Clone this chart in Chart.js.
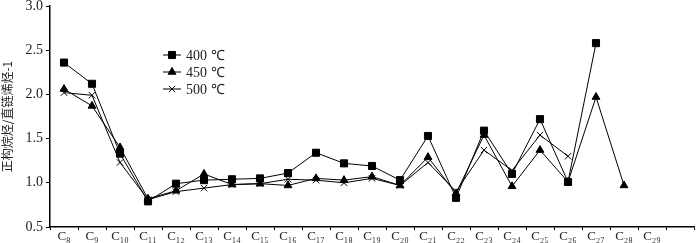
<!DOCTYPE html>
<html>
<head>
<meta charset="utf-8">
<script src="https://cdn.jsdelivr.net/npm/chart.js@4"></script>
<style>
  html, body { margin: 0; padding: 0; background: #fff; }
  #wrap { width: 700px; height: 243px; position: relative; }
</style>
</head>
<body>
<div id="wrap"><canvas id="chart1"></canvas></div>
<script>
// carbon numbers C8..C29 (last slot is the cut-off one at the right edge)
const categories = ["C₈", "C₉", "C₁₀", "C₁₁", "C₁₂", "C₁₃", "C₁₄", "C₁₅", "C₁₆", "C₁₇", "C₁₈",
  "C₁₉", "C₂₀", "C₂₁", "C₂₂", "C₂₃", "C₂₄", "C₂₅", "C₂₆", "C₂₇", "C₂₈", "C₂₉", ""];

const s400 = [2.36, 2.12, 1.33, 0.79, 0.99, 1.03, 1.04, 1.05, 1.11, 1.34, 1.22,
  1.19, 1.03, 1.53, 0.83, 1.59, 1.10, 1.72, 1.01, 2.58, null, null, null];
const s450 = [2.06, 1.87, 1.40, 0.82, 0.91, 1.10, 0.98, 0.99, 0.97, 1.05, 1.03,
  1.07, 0.97, 1.29, 0.88, 1.54, 0.96, 1.37, 1.01, 1.97, 0.97, null, null];
const s500 = [2.02, 1.99, 1.23, 0.81, 0.90, 0.94, 0.98, 0.99, 1.04, 1.03, 1.00,
  1.05, 0.97, 1.23, 0.90, 1.37, 1.14, 1.54, 1.30, null, null, null, null];

const seriesLabels = ["400 ℃", "450 ℃", "500 ℃"];
const yTicks = [0.5, 1.0, 1.5, 2.0, 2.5, 3.0];

const serif = "'Liberation Serif', 'Times New Roman', serif";

// legend drawn inside the plot, line + marker + text
const insideLegend = {
  id: "insideLegend",
  afterDatasetsDraw(chart) {
    const ctx = chart.ctx;
    const x0 = 163, x1 = 181, tx = 186;
    const rows = [55, 72, 89];
    ctx.save();
    chart.data.datasets.forEach((ds, i) => {
      const y = rows[i];
      ctx.strokeStyle = "#000";
      ctx.lineWidth = 1;
      ctx.beginPath();
      ctx.moveTo(x0, y);
      ctx.lineTo(x1, y);
      ctx.stroke();
      ctx.fillStyle = "#000";
      Chart.helpers.drawPoint(ctx, {
        pointStyle: ds.pointStyle, radius: ds.pointRadius, borderWidth: 1, rotation: 0
      }, (x0 + x1) / 2, y);
      ctx.font = "14px " + serif;
      ctx.fillStyle = "#222";
      ctx.textBaseline = "middle";
      ctx.fillText(ds.label, tx, y + 1);
    });
    ctx.restore();
  }
};

const mk = (label, data, style, r) => ({
  label, data,
  borderColor: "#000", backgroundColor: "#000", borderWidth: 1,
  pointStyle: style, pointRadius: r, pointHoverRadius: r,
  pointBorderColor: "#000", pointBackgroundColor: "#000", pointBorderWidth: 1,
  spanGaps: false, tension: 0
});

const noPad = s => { s.paddingTop = 0; s.paddingBottom = 0; s.paddingLeft = 0; s.paddingRight = 0; };

new Chart(document.getElementById("chart1").getContext("2d"), {
  type: "line",
  data: {
    labels: categories,
    datasets: [
      mk(seriesLabels[0], s400, "rect", 5),
      mk(seriesLabels[1], s450, "triangle", 4.5),
      mk(seriesLabels[2], s500, "crossRot", 4.5)
    ]
  },
  options: {
    responsive: true,
    maintainAspectRatio: false,
    animation: false,
    layout: { padding: { top: 5, right: 0, left: 0, bottom: 0 } },
    plugins: { legend: { display: false }, tooltip: { enabled: false } },
    scales: {
      x: {
        offset: true,
        grid: { display: true, drawOnChartArea: false, tickLength: 3, color: "#000", offset: true },
        border: { color: "#000", width: 1.5 },
        ticks: { color: "#222", font: { family: serif, size: 13, lineHeight: 1 }, padding: 0, maxRotation: 0, autoSkip: false },
        afterFit: s => { s.height = 16; noPad(s); }
      },
      y: {
        min: 0.5, max: 3.0,
        afterBuildTicks: s => { s.ticks = yTicks.map(v => ({ value: v })); },
        grid: { display: true, drawOnChartArea: false, tickLength: 4, color: "#000" },
        border: { color: "#000", width: 1.5 },
        ticks: { color: "#222", font: { family: serif, size: 14 }, padding: 3,
          callback: v => v.toFixed(1) },
        title: { display: true, text: "正构烷烃/直链烯烃-1", color: "#222",
          font: { family: "'Noto Sans CJK SC', sans-serif", size: 12 }, padding: { top: 0, bottom: 0 } },
        afterFit: s => { s.width = 50; noPad(s); }
      }
    }
  },
  plugins: [insideLegend]
});
</script>
</body>
</html>
